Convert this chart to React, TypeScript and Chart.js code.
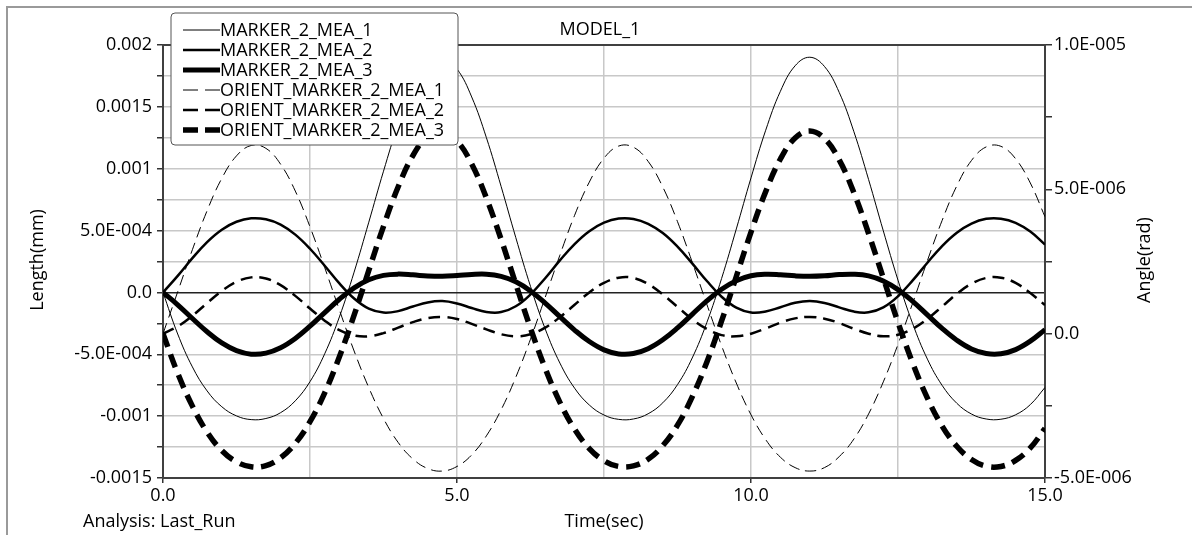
import React, { useEffect, useRef } from 'react';
import { Chart, registerables } from 'chart.js';

Chart.register(...registerables);

// ---- Data ----
const TIME = [
  0, 0.25, 0.5, 0.75, 1, 1.25, 1.5, 1.75, 2, 2.25, 2.5, 2.75, 3, 3.25, 3.5, 3.75, 4, 4.25, 4.5, 4.75,
  5, 5.25, 5.5, 5.75, 6, 6.25, 6.5, 6.75, 7, 7.25, 7.5, 7.75, 8, 8.25, 8.5, 8.75, 9, 9.25, 9.5, 9.75,
  10, 10.25, 10.5, 10.75, 11, 11.25, 11.5, 11.75, 12, 12.25, 12.5, 12.75, 13, 13.25, 13.5, 13.75, 14, 14.25, 14.5, 14.75, 15,
];

// Length (mm), left axis
const MARKER_2_MEA_1 = [
  0, -3.36e-4, -6.02e-4, -7.96e-4, -9.24e-4, -9.98e-4, -10.28e-4, -10.19e-4, -9.72e-4, -8.76e-4, -7.21e-4, -4.96e-4, -1.98e-4,
  1.64e-4, 5.68e-4, 9.8e-4, 13.58e-4, 16.6e-4, 18.49e-4, 18.99e-4, 18.06e-4, 15.8e-4, 12.51e-4, 8.57e-4, 4.43e-4, 0.49e-4,
  -2.95e-4, -5.71e-4, -7.74e-4, -9.1e-4, -9.91e-4, -10.26e-4, -10.23e-4, -9.81e-4, -8.92e-4, -7.45e-4, -5.3e-4, -2.42e-4,
  1.13e-4, 5.13e-4, 9.26e-4, 13.11e-4, 16.26e-4, 18.32e-4, 19.01e-4, 18.26e-4, 16.17e-4, 12.99e-4, 9.12e-4, 4.98e-4, 0.99e-4,
  -2.53e-4, -5.39e-4, -7.51e-4, -8.96e-4, -9.83e-4, -10.23e-4, -10.25e-4, -9.89e-4, -9.07e-4, -7.68e-4,
];
const MARKER_2_MEA_2 = [
  0, 1.34e-4, 2.77e-4, 4.07e-4, 5.07e-4, 5.71e-4, 5.99e-4, 5.91e-4, 5.48e-4, 4.67e-4, 3.53e-4, 2.16e-4, 0.73e-4,
  -0.49e-4, -1.31e-4, -1.63e-4, -1.51e-4, -1.14e-4, -0.81e-4, -0.7e-4, -0.89e-4, -1.26e-4, -1.58e-4, -1.59e-4, -1.12e-4, -0.16e-4,
  1.15e-4, 2.59e-4, 3.91e-4, 4.95e-4, 5.64e-4, 5.97e-4, 5.94e-4, 5.55e-4, 4.8e-4, 3.7e-4, 2.35e-4, 0.92e-4,
  -0.35e-4, -1.23e-4, -1.62e-4, -1.54e-4, -1.2e-4, -0.84e-4, -0.7e-4, -0.85e-4, -1.21e-4, -1.55e-4, -1.61e-4, -1.21e-4, -0.31e-4,
  0.97e-4, 2.4e-4, 3.75e-4, 4.83e-4, 5.57e-4, 5.95e-4, 5.96e-4, 5.63e-4, 4.92e-4, 3.87e-4,
];
const MARKER_2_MEA_3 = [
  0, -1.0e-4, -2.11e-4, -3.18e-4, -4.08e-4, -4.7e-4, -4.99e-4, -4.91e-4, -4.47e-4, -3.72e-4, -2.73e-4, -1.63e-4, -0.55e-4,
  0.37e-4, 1.02e-4, 1.38e-4, 1.48e-4, 1.42e-4, 1.33e-4, 1.3e-4, 1.36e-4, 1.45e-4, 1.47e-4, 1.3e-4, 0.86e-4, 0.12e-4,
  -0.86e-4, -1.96e-4, -3.04e-4, -3.97e-4, -4.64e-4, -4.97e-4, -4.94e-4, -4.55e-4, -3.83e-4, -2.87e-4, -1.77e-4, -0.68e-4,
  0.26e-4, 0.95e-4, 1.35e-4, 1.47e-4, 1.43e-4, 1.34e-4, 1.3e-4, 1.34e-4, 1.44e-4, 1.47e-4, 1.34e-4, 0.93e-4, 0.23e-4,
  -0.72e-4, -1.81e-4, -2.91e-4, -3.86e-4, -4.57e-4, -4.94e-4, -4.96e-4, -4.62e-4, -3.94e-4, -3.01e-4,
];

// Angle (rad), right axis
const ORIENT_MARKER_2_MEA_1 = [
  0, 1.45e-6, 2.91e-6, 4.26e-6, 5.38e-6, 6.16e-6, 6.52e-6, 6.42e-6, 5.87e-6, 4.94e-6, 3.7e-6, 2.29e-6, 0.82e-6,
  -0.6e-6, -1.87e-6, -2.94e-6, -3.77e-6, -4.34e-6, -4.67e-6, -4.76e-6, -4.6e-6, -4.2e-6, -3.54e-6, -2.64e-6, -1.51e-6, -0.19e-6,
  1.26e-6, 2.72e-6, 4.1e-6, 5.25e-6, 6.08e-6, 6.5e-6, 6.46e-6, 5.97e-6, 5.08e-6, 3.88e-6, 2.48e-6, 1.01e-6,
  -0.42e-6, -1.71e-6, -2.81e-6, -3.67e-6, -4.28e-6, -4.64e-6, -4.76e-6, -4.64e-6, -4.26e-6, -3.65e-6, -2.78e-6, -1.67e-6, -0.37e-6,
  1.06e-6, 2.53e-6, 3.92e-6, 5.12e-6, 6.0e-6, 6.47e-6, 6.49e-6, 6.06e-6, 5.22e-6, 4.05e-6,
];
const ORIENT_MARKER_2_MEA_2 = [
  0, 0.25e-6, 0.62e-6, 1.06e-6, 1.48e-6, 1.8e-6, 1.95e-6, 1.91e-6, 1.68e-6, 1.31e-6, 0.87e-6, 0.45e-6, 0.12e-6,
  -0.06e-6, -0.09e-6, 0.02e-6, 0.21e-6, 0.4e-6, 0.54e-6, 0.58e-6, 0.51e-6, 0.34e-6, 0.15e-6, -0.02e-6, -0.09e-6, -0.02e-6,
  0.21e-6, 0.57e-6, 1.0e-6, 1.43e-6, 1.76e-6, 1.94e-6, 1.93e-6, 1.72e-6, 1.36e-6, 0.93e-6, 0.5e-6, 0.16e-6,
  -0.05e-6, -0.09e-6, 0.0, 0.18e-6, 0.38e-6, 0.53e-6, 0.58e-6, 0.52e-6, 0.37e-6, 0.17e-6, 0.0, -0.09e-6, -0.04e-6,
  0.17e-6, 0.51e-6, 0.94e-6, 1.38e-6, 1.73e-6, 1.93e-6, 1.94e-6, 1.76e-6, 1.41e-6, 0.99e-6,
];
const ORIENT_MARKER_2_MEA_3 = [
  0, -1.37e-6, -2.51e-6, -3.41e-6, -4.05e-6, -4.44e-6, -4.61e-6, -4.57e-6, -4.3e-6, -3.8e-6, -3.05e-6, -2.05e-6, -0.8e-6,
  0.64e-6, 2.19e-6, 3.72e-6, 5.09e-6, 6.17e-6, 6.84e-6, 7.01e-6, 6.68e-6, 5.88e-6, 4.7e-6, 3.27e-6, 1.72e-6, 0.19e-6,
  -1.2e-6, -2.38e-6, -3.31e-6, -3.98e-6, -4.4e-6, -4.6e-6, -4.58e-6, -4.35e-6, -3.88e-6, -3.17e-6, -2.19e-6, -0.98e-6,
  0.44e-6, 1.98e-6, 3.52e-6, 4.92e-6, 6.05e-6, 6.78e-6, 7.02e-6, 6.76e-6, 6.02e-6, 4.88e-6, 3.47e-6, 1.93e-6, 0.39e-6,
  -1.02e-6, -2.23e-6, -3.2e-6, -3.9e-6, -4.36e-6, -4.59e-6, -4.6e-6, -4.39e-6, -3.96e-6, -3.28e-6,
];

const SERIES_NAMES = [
  'MARKER_2_MEA_1',
  'MARKER_2_MEA_2',
  'MARKER_2_MEA_3',
  'ORIENT_MARKER_2_MEA_1',
  'ORIENT_MARKER_2_MEA_2',
  'ORIENT_MARKER_2_MEA_3',
];

const X_TICK_VALUES = [0, 5, 10, 15];
const X_TICK_LABELS = ['0.0', '5.0', '10.0', '15.0'];
const LEFT_TICK_VALUES = [-0.0015, -0.001, -0.0005, 0, 0.0005, 0.001, 0.0015, 0.002];
const LEFT_TICK_LABELS = ['-0.0015', '-0.001', '-5.0E-004', '0.0', '5.0E-004', '0.001', '0.0015', '0.002'];
const RIGHT_TICK_VALUES = [-5e-6, 0, 5e-6, 1e-5];
const RIGHT_TICK_LABELS = ['-5.0E-006', '0.0', '5.0E-006', '1.0E-005'];

const TITLE = 'MODEL_1';
const X_TITLE = 'Time(sec)';
const Y_TITLE = 'Length(mm)';
const Y2_TITLE = 'Angle(rad)';
const FOOTNOTE = 'Analysis: Last_Run';

// ---- styles ----
const FONT = '"Open Sans", "Noto Sans", sans-serif';
const STYLES = [
  { width: 1, dash: [] as number[], axis: 'y' },
  { width: 2.5, dash: [] as number[], axis: 'y' },
  { width: 5, dash: [] as number[], axis: 'y' },
  { width: 1, dash: [11, 6], axis: 'y2' },
  { width: 2.5, dash: [12, 7], axis: 'y2' },
  { width: 5.5, dash: [14, 8], axis: 'y2' },
];
const SERIES_VALUES = [
  MARKER_2_MEA_1,
  MARKER_2_MEA_2,
  MARKER_2_MEA_3,
  ORIENT_MARKER_2_MEA_1,
  ORIENT_MARKER_2_MEA_2,
  ORIENT_MARKER_2_MEA_3,
];

function labelFor(value: number, values: number[], labels: string[], tol: number): string {
  for (let i = 0; i < values.length; i++) {
    if (Math.abs(values[i] - value) < tol) return labels[i];
  }
  return '';
}

const decorPlugin = {
  id: 'decor',
  beforeDraw(chart: any) {
    const { ctx } = chart;
    ctx.save();
    ctx.fillStyle = '#ffffff';
    ctx.fillRect(0, 0, chart.width, chart.height);
    ctx.strokeStyle = '#9a9a9a';
    ctx.lineWidth = 2;
    ctx.beginPath();
    ctx.moveTo(7, chart.height + 5);
    ctx.lineTo(7, 7);
    ctx.lineTo(chart.width + 5, 7);
    ctx.stroke();
    ctx.restore();
  },
  afterDraw(chart: any) {
    const { ctx, chartArea } = chart;
    ctx.save();
    // top border of the plot box
    ctx.strokeStyle = '#404040';
    ctx.lineWidth = 2;
    ctx.beginPath();
    ctx.moveTo(chartArea.left, chartArea.top);
    ctx.lineTo(chartArea.right, chartArea.top);
    ctx.stroke();

    ctx.fillStyle = '#000';
    ctx.font = `18px ${FONT}`;
    ctx.textAlign = 'center';
    ctx.textBaseline = 'middle';
    ctx.fillText(TITLE, 600, 30);

    ctx.textBaseline = 'alphabetic';
    ctx.fillText(X_TITLE, 604, 527);
    ctx.textAlign = 'left';
    ctx.fillText(FOOTNOTE, 83, 527);

    ctx.textAlign = 'center';
    ctx.save();
    ctx.translate(43, 260);
    ctx.rotate(-Math.PI / 2);
    ctx.fillText(Y_TITLE, 0, 0);
    ctx.restore();
    ctx.save();
    ctx.translate(1150, 260);
    ctx.rotate(-Math.PI / 2);
    ctx.fillText(Y2_TITLE, 0, 0);
    ctx.restore();

    // legend
    const bx = 171, by = 13, bw = 287, bh = 132, r = 4;
    ctx.beginPath();
    ctx.moveTo(bx + r, by);
    ctx.lineTo(bx + bw - r, by);
    ctx.quadraticCurveTo(bx + bw, by, bx + bw, by + r);
    ctx.lineTo(bx + bw, by + bh - r);
    ctx.quadraticCurveTo(bx + bw, by + bh, bx + bw - r, by + bh);
    ctx.lineTo(bx + r, by + bh);
    ctx.quadraticCurveTo(bx, by + bh, bx, by + bh - r);
    ctx.lineTo(bx, by + r);
    ctx.quadraticCurveTo(bx, by, bx + r, by);
    ctx.closePath();
    ctx.fillStyle = '#ffffff';
    ctx.fill();
    ctx.strokeStyle = '#555';
    ctx.lineWidth = 1;
    ctx.stroke();

    ctx.font = `18px ${FONT}`;
    ctx.textAlign = 'left';
    ctx.textBaseline = 'middle';
    for (let i = 0; i < SERIES_NAMES.length; i++) {
      const y = 30 + i * 20;
      const st = STYLES[i];
      ctx.strokeStyle = '#000';
      ctx.lineWidth = st.width;
      ctx.setLineDash(st.dash.length ? [15, 7] : []);
      ctx.beginPath();
      ctx.moveTo(183, y);
      ctx.lineTo(220, y);
      ctx.stroke();
      ctx.setLineDash([]);
      ctx.fillStyle = '#000';
      ctx.fillText(SERIES_NAMES[i], 220, y + 1);
    }
    ctx.restore();
  },
};

export default function App() {
  const canvasRef = useRef<HTMLCanvasElement | null>(null);

  useEffect(() => {
    document.body.style.margin = '0';
    const canvas = canvasRef.current;
    if (!canvas) return;

    const datasets = SERIES_NAMES.map((name, i) => ({
      label: name,
      data: TIME.map((t, k) => ({ x: t, y: SERIES_VALUES[i][k] })),
      yAxisID: STYLES[i].axis,
      borderColor: '#000',
      backgroundColor: '#000',
      borderWidth: STYLES[i].width,
      borderDash: STYLES[i].dash,
      pointRadius: 0,
      tension: 0.4,
      fill: false,
    }));

    const chart = new Chart(canvas, {
      type: 'line',
      data: { datasets },
      plugins: [decorPlugin],
      options: {
        animation: false,
        responsive: false,
        maintainAspectRatio: false,
        layout: { padding: { top: 45, left: 0, right: 0, bottom: 0 } },
        plugins: { legend: { display: false }, title: { display: false }, tooltip: { enabled: false } },
        scales: {
          x: {
            type: 'linear',
            min: 0,
            max: 15,
            afterFit: (s: any) => { s.height = 57; },
            ticks: {
              stepSize: 2.5,
              autoSkip: false,
              maxRotation: 0,
              padding: 2,
              color: '#000',
              font: { family: FONT, size: 18 },
              callback: (v: any) => labelFor(Number(v), X_TICK_VALUES, X_TICK_LABELS, 1e-6),
            },
            grid: {
              color: '#c8c8c8',
              lineWidth: 1.5,
              tickLength: 5,
              tickColor: (c: any) => (labelFor(c.tick?.value ?? -1, X_TICK_VALUES, X_TICK_LABELS, 1e-6) ? '#333' : 'rgba(0,0,0,0)'),
            },
            border: { color: '#404040', width: 2 },
          },
          y: {
            type: 'linear',
            position: 'left',
            min: -0.0015,
            max: 0.002,
            afterFit: (s: any) => { s.width = 163; },
            ticks: {
              stepSize: 0.00025,
              autoSkip: false,
              padding: 5,
              color: '#000',
              font: { family: FONT, size: 18 },
              callback: (v: any) => labelFor(Number(v), LEFT_TICK_VALUES, LEFT_TICK_LABELS, 1e-8),
            },
            grid: {
              color: (c: any) => (Math.abs(c.tick?.value ?? 1) < 1e-9 ? '#222' : '#c8c8c8'),
              lineWidth: 1.5,
              tickLength: 6,
              tickColor: '#333',
            },
            border: { color: '#404040', width: 2 },
          },
          y2: {
            type: 'linear',
            position: 'right',
            min: -5e-6,
            max: 1e-5,
            afterFit: (s: any) => { s.width = 147; },
            ticks: {
              stepSize: 2.5e-6,
              autoSkip: false,
              padding: 2,
              color: '#000',
              font: { family: FONT, size: 18 },
              callback: (v: any) => labelFor(Number(v), RIGHT_TICK_VALUES, RIGHT_TICK_LABELS, 1e-11),
            },
            grid: {
              drawOnChartArea: false,
              tickLength: 7,
              tickColor: '#333',
              color: '#333',
              lineWidth: 1.5,
            },
            border: { color: '#404040', width: 2 },
          },
        },
      },
    } as any);

    return () => chart.destroy();
  }, []);

  return (
    <div style={{ width: 1192, height: 535, position: 'relative' }}>
      <canvas ref={canvasRef} width={1192} height={535} style={{ display: 'block', width: 1192, height: 535 }} />
    </div>
  );
}
